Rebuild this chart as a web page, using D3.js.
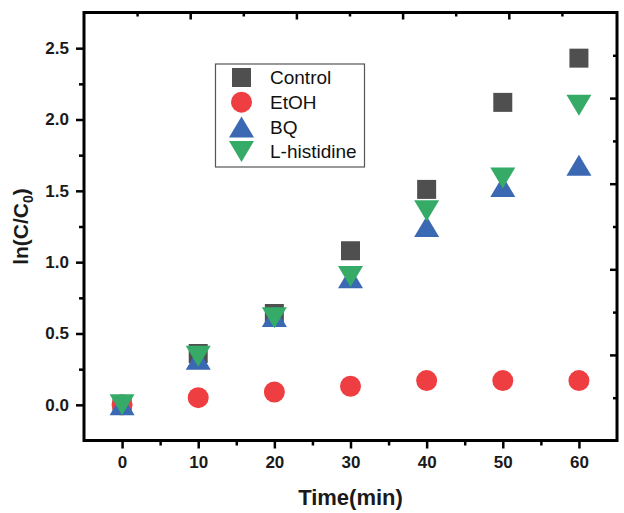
<!DOCTYPE html>
<html>
<head>
<meta charset="utf-8">
<script src="https://cdn.jsdelivr.net/npm/d3@7"></script>
<style>
  html, body { margin: 0; padding: 0; background: #fff; }
  svg { display: block; font-family: 'Liberation Sans', Arial, sans-serif; }
</style>
</head>
<body>
<svg id="chart" width="624" height="513"></svg>
<script>
const timeMin = [0, 10, 20, 30, 40, 50, 60]
const controlVals = [0, 0.36, 0.64, 1.08, 1.51, 2.12, 2.43]
const etohVals = [0, 0.05, 0.09, 0.13, 0.17, 0.17, 0.17]
const bqVals = [0, 0.32, 0.62, 0.89, 1.25, 1.53, 1.68]
const hisVals = [0, 0.34, 0.61, 0.90, 1.36, 1.59, 2.10]
const seriesNames = ['Control', 'EtOH', 'BQ', 'L-histidine']
const xTicks = [0, 10, 20, 30, 40, 50, 60]
const yTicks = [0, 0.5, 1.0, 1.5, 2.0, 2.5]

const COLORS = ['#4f4f4f', '#ee3e42', '#3b68b3', '#36ab67']
const AXIS_W = 3
const TICK_FONT = 17

// custom Origin-like symbols, centred on their bounding box
const sqType = { draw(ctx, s) { const h = s / 2; ctx.rect(-h, -h, s, s) } }
const circType = { draw(ctx, s) { const r = s / 2; ctx.moveTo(r, 0); ctx.arc(0, 0, r, 0, 2 * Math.PI) } }
const upType = { draw(ctx, s) { const w = s / 2, h = s * 0.42; ctx.moveTo(0, -h); ctx.lineTo(w, h); ctx.lineTo(-w, h); ctx.closePath() } }
const downType = { draw(ctx, s) { const w = s / 2, h = s * 0.42; ctx.moveTo(0, h); ctx.lineTo(w, -h); ctx.lineTo(-w, -h); ctx.closePath() } }
const symTypes = [sqType, circType, upType, downType]
const symSizes = [19, 21, 25, 25]

const svg = d3.select('#chart')
const pL = 84, pR = 617, pT = 12.5, pB = 440.5

const x = d3.scaleLinear().domain([-5, 65]).range([pL, pR])
const y = d3.scaleLinear().domain([-0.25, 2.75]).range([pB, pT])
// the top / right frame carries its own (unlinked) tick spacing
const xTop = d3.scaleLinear().domain([0, 5]).range([pL, pR - 2])
const yRight = d3.scaleLinear().domain([0, 5]).range([pB, pT])

function styleAxis(g) {
  g.select('.domain').remove()
  g.selectAll('.tick line').attr('stroke', '#000').attr('stroke-width', 2.5)
  g.selectAll('.tick text')
    .attr('font-size', TICK_FONT)
    .attr('font-weight', 700)
    .attr('fill', '#1a1a1a')
}

// minor ticks
svg.append('g')
  .attr('transform', `translate(0,${pB})`)
  .call(d3.axisBottom(x).tickValues(d3.range(5, 60, 10)).tickSize(5).tickFormat(''))
  .call(styleAxis)
svg.append('g')
  .attr('transform', `translate(${pL},0)`)
  .call(d3.axisLeft(y).tickValues(d3.range(0.25, 2.6, 0.5)).tickSize(5).tickFormat(''))
  .call(styleAxis)
svg.append('g')
  .attr('transform', `translate(0,${pT})`)
  .call(d3.axisBottom(xTop).tickValues([0.5, 1.5, 2.5, 3.5, 4.5]).tickSize(4).tickFormat(''))
  .call(styleAxis)
svg.append('g')
  .attr('transform', `translate(${pR},0)`)
  .call(d3.axisLeft(yRight).tickValues([0.5, 1.5, 2.5, 3.5, 4.5]).tickSize(4).tickFormat(''))
  .call(styleAxis)

// major ticks
svg.append('g')
  .attr('transform', `translate(0,${pB})`)
  .call(d3.axisBottom(x).tickValues(xTicks).tickSize(8).tickPadding(7).tickFormat(d3.format('d')))
  .call(styleAxis)
svg.append('g')
  .attr('transform', `translate(${pL},0)`)
  .call(d3.axisLeft(y).tickValues(yTicks).tickSize(8).tickPadding(7).tickFormat(d3.format('.1f')))
  .call(styleAxis)
svg.append('g')
  .attr('transform', `translate(0,${pT})`)
  .call(d3.axisBottom(xTop).tickValues([1, 2, 3, 4]).tickSize(7).tickFormat(''))
  .call(styleAxis)
svg.append('g')
  .attr('transform', `translate(${pR},0)`)
  .call(d3.axisLeft(yRight).tickValues([1, 2, 3, 4]).tickSize(7).tickFormat(''))
  .call(styleAxis)

// frame
svg.append('rect')
  .attr('x', pL).attr('y', pT)
  .attr('width', pR - pL).attr('height', pB - pT)
  .attr('fill', 'none').attr('stroke', '#000').attr('stroke-width', AXIS_W)

// points
const seriesVals = [controlVals, etohVals, bqVals, hisVals]
seriesVals.forEach((vals, i) => {
  const sym = d3.symbol().type(symTypes[i]).size(symSizes[i])
  svg.append('g')
    .selectAll('path')
    .data(vals.map((v, j) => ({ t: timeMin[j], v })))
    .join('path')
    .attr('d', sym)
    .attr('transform', d => `translate(${x(d.t)},${y(d.v)})`)
    .attr('fill', COLORS[i])
})

// axis titles
svg.append('text')
  .attr('x', (pL + pR) / 2).attr('y', 505)
  .attr('text-anchor', 'middle')
  .attr('font-size', 22).attr('font-weight', 700).attr('fill', '#1a1a1a')
  .text('Time(min)')

const yTitle = svg.append('text')
  .attr('transform', `translate(28,${(pT + pB) / 2}) rotate(-90)`)
  .attr('text-anchor', 'middle')
  .attr('font-size', 21).attr('font-weight', 700).attr('fill', '#1a1a1a')
yTitle.append('tspan').text('ln(C/C')
yTitle.append('tspan').attr('font-size', 14).attr('dy', 5).text('0')
yTitle.append('tspan').attr('dy', -5).text(')')

// legend
const lg = svg.append('g')
lg.append('rect')
  .attr('x', 215.5).attr('y', 64)
  .attr('width', 149).attr('height', 103)
  .attr('fill', '#fff').attr('stroke', '#555').attr('stroke-width', 1.2)
seriesNames.forEach((name, i) => {
  const cy = 77.5 + i * 24.7
  lg.append('path')
    .attr('d', d3.symbol().type(symTypes[i]).size(symSizes[i]))
    .attr('transform', `translate(241.5,${cy})`)
    .attr('fill', COLORS[i])
  lg.append('text')
    .attr('x', 270).attr('y', cy)
    .attr('dy', '0.35em')
    .attr('font-size', 19).attr('fill', '#111')
    .text(name)
})
</script>
</body>
</html>
